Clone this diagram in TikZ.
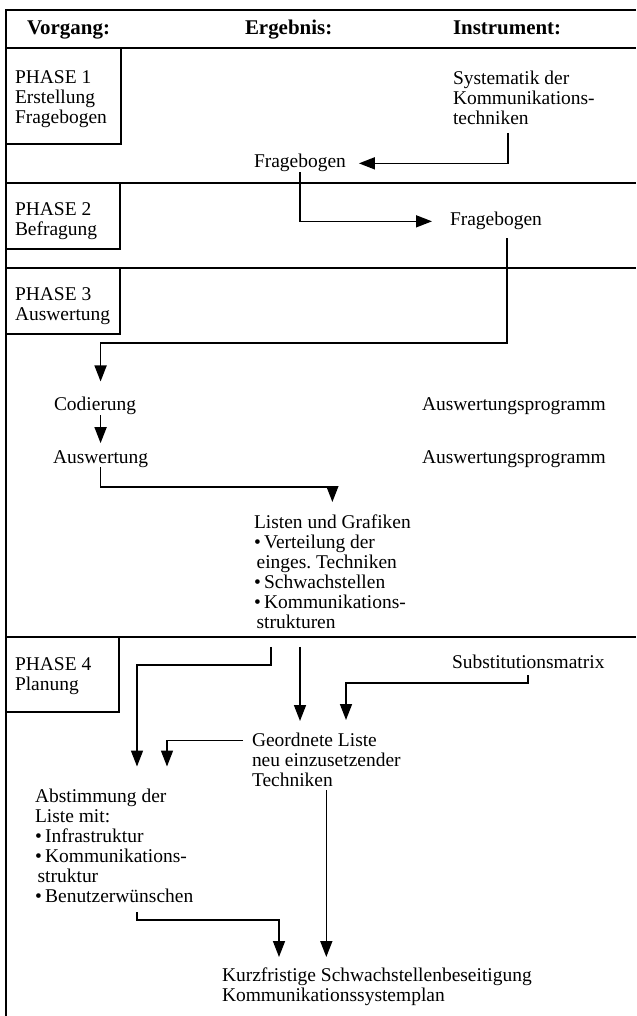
\documentclass[tikz,border=0pt]{standalone}
\usepackage{fontspec}
\setmainfont{Liberation Serif}
\usetikzlibrary{arrows.meta,calc}
\begin{document}
\begin{tikzpicture}[x=0.75pt,y=-0.75pt,
  frame/.style={line width=1.4pt},
  conn/.style={line width=1.2pt},
  arr/.style={conn,-{Triangle[length=12pt,width=9pt]}},
  txt/.style={inner sep=0pt,outer sep=0pt,font=\fontsize{14.6pt}{15pt}\selectfont,align=left},
  hdr/.style={inner sep=0pt,outer sep=0pt,font=\fontsize{15.7pt}{16pt}\selectfont\bfseries},
]
\useasboundingbox (0,0) rectangle (636,1016);

% frame and phase rows
\draw[frame] (636,10) -- (6,10) -- (6,1016);
\draw[frame] (6,48) -- (636,48);
\draw[frame] (6,183) -- (636,183);
\draw[frame] (6,268) -- (636,268);
\draw[frame] (6,637) -- (636,637);
% phase boxes
\draw[frame] (6,144) -| (121,48);
\draw[frame] (6,249) -| (120,183);
\draw[frame] (6,334) -| (120,268);
\draw[frame] (6,712) -| (119,637);

% headers
\node[hdr,anchor=base west] (hV) at (27,35) {Vorgang:};
\node[hdr,anchor=base west] (hE) at (245,35) {Ergebnis:};
\node[hdr,anchor=base west] (hI) at (453,35) {Instrument:};

% phase labels
\node[txt,anchor=north west] (p1) at (15,70.5) {PHASE 1\\Erstellung\\Fragebogen};
\node[txt,anchor=north west] (p2) at (15,202.5) {PHASE 2\\Befragung};
\node[txt,anchor=north west] (p3) at (15,288) {PHASE 3\\Auswertung};
\node[txt,anchor=north west] (p4) at (15,657.5) {PHASE 4\\Planung};

% content
\node[txt,anchor=north west] (sys) at (453,70.5) {Systematik der\\Kommunikations-\\techniken};
\node[txt,anchor=base west] (fb1) at (254,168) {Fragebogen};
\node[txt,anchor=base west] (fb2) at (450,226) {Fragebogen};
\node[txt,anchor=base west] (cod) at (54,410) {Codierung};
\node[txt,anchor=base west] (ap1) at (422,410) {Auswertungsprogramm};
\node[txt,anchor=base west] (ausw) at (53,463) {Auswertung};
\node[txt,anchor=base west] (ap2) at (422,463) {Auswertungsprogramm};
\node[txt,anchor=north west] (listen) at (254,515) {Listen und Grafiken\\%
•\hspace{2.5pt}Verteilung der\\\hspace*{2pt}einges.\ Techniken\\%
•\hspace{2.5pt}Schwachstellen\\•\hspace{2.5pt}Kommunikations-\\\hspace*{2pt}strukturen};
\node[txt,anchor=base west] (sub) at (452,668) {Substitutionsmatrix};
\node[txt,anchor=north west] (geo) at (252,732.5) {Geordnete Liste\\neu einzusetzender\\Techniken};
\node[txt,anchor=north west] (abst) at (35,788.5) {Abstimmung der\\Liste mit:\\%
•\hspace{2.5pt}Infrastruktur\\•\hspace{2.5pt}Kommunikations-\\\hspace*{2pt}struktur\\%
•\hspace{2.5pt}Benutzerwünschen};
\node[txt,anchor=north west] (kurz) at (222,967.5) {Kurzfristige Schwachstellenbeseitigung\\Kommunikationssystemplan};

% guide coordinates
\coordinate (s1) at (508,133);
\coordinate (f2s) at (507,238);
\coordinate (xA) at (271,0);
\coordinate (xB) at (300,0);
\coordinate (xC) at (137,0);
\coordinate (xD) at (346,0);
\coordinate (xE) at (167,0);
\coordinate (xF) at (279,0);

% connectors
\draw[arr] (s1) |- ($(fb1.east)+(13,0)$);
\draw[arr] (fb1.south) |- ($(fb2.west)+(-18,0)$);
\draw[arr] (f2s) -- ++(0,105) -| ($(cod.north -| ausw.north)+(0,-15)$);
\draw[arr] ($(cod.south -| ausw.north)+(0,1)$) -- ($(ausw.north)+(0,-7)$);
\draw[arr] (ausw.south) -- ++(0,20) -| ($(listen.north)+(0,-13)$);
\draw[arr] ($(listen.south -| xA)+(0,18)$) -- ++(0,18) -| ($(abst.north -| xC)+(0,-22)$);
\draw[arr] ($(listen.south -| xB)+(0,18)$) -- ($(geo.north -| xB)+(0,-11.5)$);
\draw[arr] ($(sub.south)+(0,7)$) -- ++(0,8) -| ($(geo.north -| xD)+(0,-12.5)$);
\draw[arr] ($(geo.north west)+(-9,8)$) -| ($(abst.north -| xE)+(0,-22)$);
\draw[arr] ($(geo.south)+(0,4)$) -- ($(kurz.north -| geo.south)+(0,-10.5)$);
\draw[arr] ($(abst.south -| xC)+(0,10)$) -- ++(0,8) -| ($(kurz.north -| xF)+(0,-10.5)$);
\end{tikzpicture}
\end{document}
